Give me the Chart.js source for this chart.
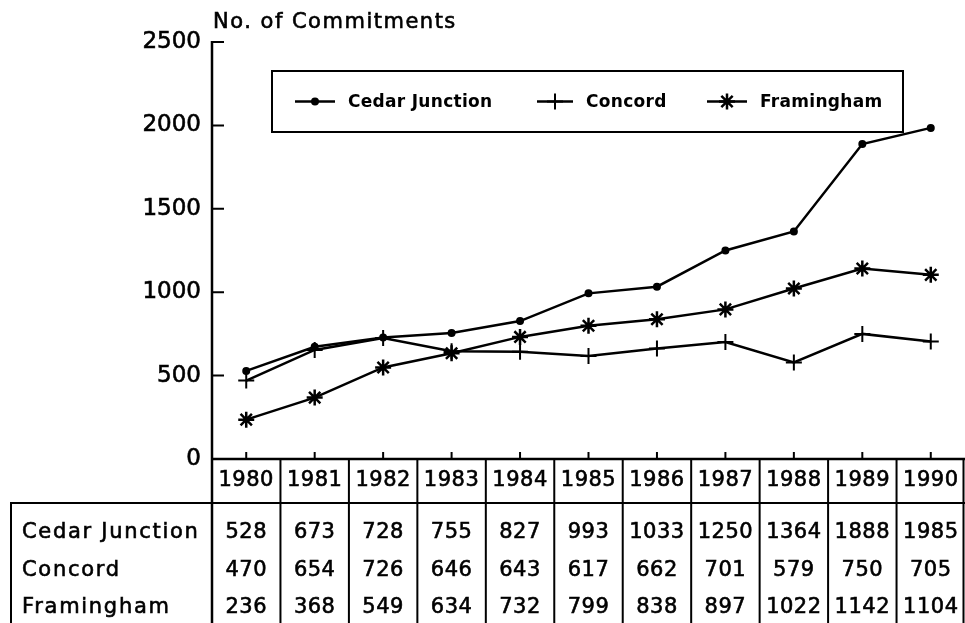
<!DOCTYPE html>
<html>
<head>
<meta charset="utf-8">
<script src="https://cdn.jsdelivr.net/npm/chart.js@4"></script>
<style>
  html, body { margin: 0; padding: 0; background: #fff; overflow: hidden; }
  #wrap { position: relative; width: 965px; height: 623px; }
  canvas { display: block; }
</style>
</head>
<body>
<div id="wrap"><canvas id="chart"></canvas></div>
<script>
// Commitments by institution, 1980-1990.
const YEARS = ['1980', '1981', '1982', '1983', '1984', '1985', '1986', '1987', '1988', '1989', '1990'];
const SERIES_NAMES = ['Cedar Junction', 'Concord', 'Framingham'];
const CEDAR_JUNCTION = [528, 673, 728, 755, 827, 993, 1033, 1250, 1364, 1888, 1985];
const CONCORD = [470, 654, 726, 646, 643, 617, 662, 701, 579, 750, 705];
const FRAMINGHAM = [236, 368, 549, 634, 732, 799, 838, 897, 1022, 1142, 1104];
const Y_TICKS = [0, 500, 1000, 1500, 2000, 2500];
const Y_TITLE = 'No. of Commitments';

const FONT = '"DejaVu Sans", sans-serif';
const INK = '#000';

const MARKERS = [
  { pointStyle: 'circle', radius: 3, borderWidth: 2 },
  { pointStyle: 'cross', radius: 8, borderWidth: 2 },
  { pointStyle: 'star', radius: 8, borderWidth: 2.5 },
];
const VALUES = [CEDAR_JUNCTION, CONCORD, FRAMINGHAM];

const datasets = SERIES_NAMES.map((name, i) => ({
  label: name,
  data: VALUES[i],
  borderColor: INK,
  backgroundColor: INK,
  borderWidth: 2.5,
  pointStyle: MARKERS[i].pointStyle,
  pointRadius: MARKERS[i].radius,
  pointBorderWidth: MARKERS[i].borderWidth,
  pointBackgroundColor: INK,
  pointBorderColor: INK,
  tension: 0,
  clip: false,
}));

// fill plus a thin stroke, to get the heavier plotter lettering
function ink(ctx, text, x, y) {
  ctx.fillText(text, x, y);
  ctx.strokeText(text, x, y);
}

// --- table, legend, title and inward ticks drawn on top of the plot ---
const extras = {
  id: 'extras',
  afterDraw(chart) {
    const { ctx, chartArea: a } = chart;
    const xs = chart.scales.x, ys = chart.scales.y;
    const W = chart.width, H = chart.height;
    const band = (a.right - a.left) / YEARS.length;
    ctx.save();
    ctx.strokeStyle = INK;
    ctx.fillStyle = INK;
    ctx.lineCap = 'butt';

    // y axis runs down through the table; x axis along the bottom
    ctx.lineWidth = 2.5;
    ctx.beginPath();
    ctx.moveTo(a.left, a.top - 1); ctx.lineTo(a.left, H);
    ctx.moveTo(a.left, a.bottom); ctx.lineTo(W, a.bottom);
    ctx.stroke();

    // inward ticks
    ctx.lineWidth = 2;
    ctx.beginPath();
    Y_TICKS.slice(1).forEach(v => {
      const py = ys.getPixelForValue(v);
      ctx.moveTo(a.left, py); ctx.lineTo(a.left + 12, py);
    });
    YEARS.forEach((_, i) => {
      const px = xs.getPixelForValue(i);
      ctx.moveTo(px, a.bottom); ctx.lineTo(px, a.bottom - 7);
    });
    ctx.stroke();

    // title
    ctx.lineWidth = 0.6;
    ctx.font = '21px ' + FONT;
    ctx.letterSpacing = '1.5px';
    ctx.textAlign = 'left';
    ctx.textBaseline = 'alphabetic';
    ink(ctx, Y_TITLE, a.left + 1, 28);

    // data table
    const headBottom = a.bottom + 44;
    const tableLeft = 11;
    ctx.lineWidth = 2;
    ctx.beginPath();
    for (let i = 1; i <= YEARS.length; i++) {
      const bx = Math.min(a.left + band * i, W - 1.5);
      ctx.moveTo(bx, a.bottom); ctx.lineTo(bx, H);
    }
    ctx.moveTo(tableLeft, headBottom); ctx.lineTo(W, headBottom);
    ctx.moveTo(tableLeft, headBottom - 1); ctx.lineTo(tableLeft, H);
    ctx.stroke();

    ctx.lineWidth = 0.6;
    ctx.textBaseline = 'middle';
    ctx.textAlign = 'center';
    ctx.letterSpacing = '0.5px';
    ctx.font = '21px ' + FONT;
    YEARS.forEach((yr, i) => ink(ctx, yr, xs.getPixelForValue(i), a.bottom + 22));

    const rowY = [headBottom + 30, headBottom + 68, headBottom + 105];
    VALUES.forEach((vals, r) => {
      ctx.textAlign = 'left';
      ctx.letterSpacing = '1.7px';
      ink(ctx, SERIES_NAMES[r], 22, rowY[r]);
      ctx.textAlign = 'center';
      ctx.letterSpacing = '0.5px';
      vals.forEach((v, i) => ink(ctx, String(v), xs.getPixelForValue(i), rowY[r]));
    });

    // legend box
    const lx0 = 272, ly0 = 71, lx1 = 903, ly1 = 132, ly = (ly0 + ly1) / 2;
    ctx.lineWidth = 2;
    ctx.strokeRect(lx0, ly0, lx1 - lx0, ly1 - ly0);
    const itemX = [295, 537, 707];
    const lineLen = [40, 36, 40];
    ctx.font = 'bold 17px ' + FONT;
    ctx.letterSpacing = '0.3px';
    ctx.textAlign = 'left';
    SERIES_NAMES.forEach((name, i) => {
      const x0 = itemX[i], x1 = x0 + lineLen[i];
      ctx.lineWidth = 2.5;
      ctx.beginPath(); ctx.moveTo(x0, ly); ctx.lineTo(x1, ly); ctx.stroke();
      ctx.lineWidth = MARKERS[i].borderWidth;
      Chart.helpers.drawPoint(ctx, {
        pointStyle: MARKERS[i].pointStyle, radius: MARKERS[i].radius,
        rotation: 0, borderWidth: MARKERS[i].borderWidth,
      }, (x0 + x1) / 2, ly);
      ctx.fillText(name, x1 + 13, ly + 1);
    });
    ctx.restore();
  },
};

new Chart(document.getElementById('chart'), {
  type: 'line',
  data: { labels: YEARS, datasets },
  options: {
    responsive: true,
    maintainAspectRatio: false,
    animation: false,
    layout: { autoPadding: false, padding: { top: 42, bottom: 164, left: 0, right: 0 } },
    plugins: { legend: { display: false }, tooltip: { enabled: false } },
    scales: {
      x: { type: 'category', offset: true, display: false },
      y: {
        min: 0, max: 2500,
        afterFit: s => { s.width = 212; },
        afterBuildTicks: s => { s.ticks = Y_TICKS.map(v => ({ value: v })); },
        grid: { display: false, drawTicks: false },
        border: { display: false },
        ticks: {
          color: INK, padding: 11, font: { family: FONT, size: 23 },
          textStrokeColor: INK, textStrokeWidth: 0.6,
          callback: v => String(v),
        },
      },
    },
  },
  plugins: [extras],
});
</script>
</body>
</html>
